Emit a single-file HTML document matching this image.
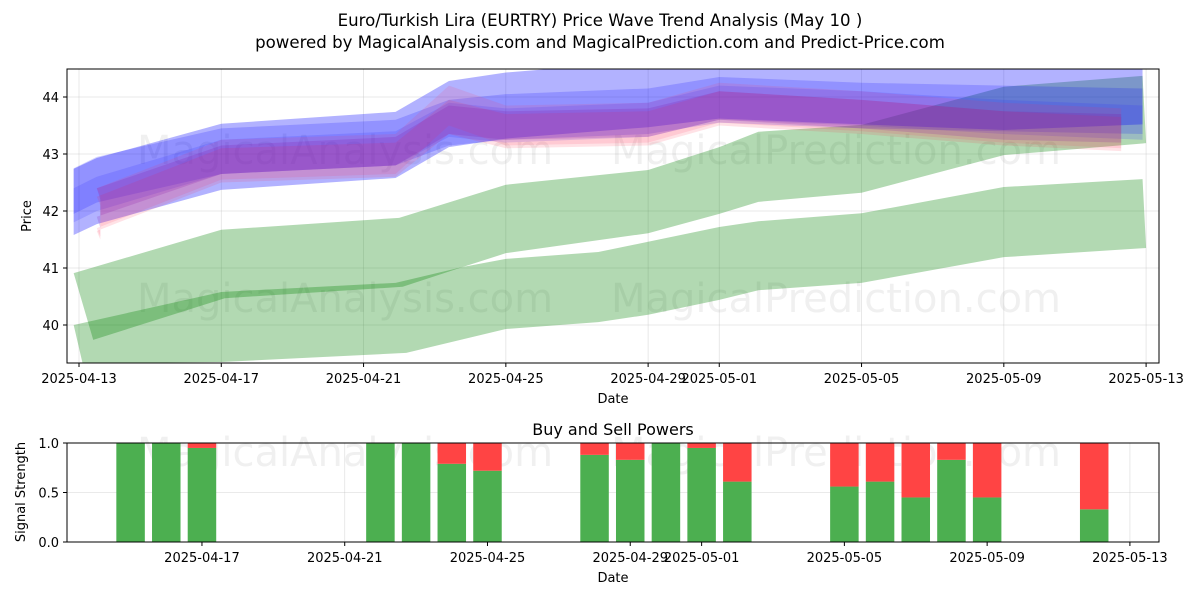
<!DOCTYPE html>
<html><head><meta charset="utf-8">
<style>
body{margin:0;background:#fff;}
svg{display:block;font-family:"DejaVu Sans","Liberation Sans",sans-serif;}
</style></head>
<body>
<svg id="chart" width="1200" height="600" viewBox="0 0 1200 600" xmlns="http://www.w3.org/2000/svg">
<rect width="1200" height="600" fill="#fff"/>
<text x="600" y="26" font-size="16.6" text-anchor="middle">Euro/Turkish Lira (EURTRY) Price Wave Trend Analysis (May 10 )</text>
<text x="600" y="48" font-size="16.6" text-anchor="middle">powered by MagicalAnalysis.com and MagicalPrediction.com and Predict-Price.com</text>
<g id="topchart"></g>
<g id="bottomchart"></g>
</svg>
<script>
// ---------- data ----------
const xTickLabelsTop = ["2025-04-13","2025-04-17","2025-04-21","2025-04-25","2025-04-29","2025-05-01","2025-05-05","2025-05-09","2025-05-13"];
const xTickDaysTop = [0,4,8,12,16,18,22,26,30];
const yTicksTop = [40,41,42,43,44];
const xTickLabelsBottom = ["2025-04-17","2025-04-21","2025-04-25","2025-04-29","2025-05-01","2025-05-05","2025-05-09","2025-05-13"];
const xTickDaysBottom = [4,8,12,16,18,22,26,30];
const yTicksBottom = [0.0,0.5,1.0];

// green prediction bands (days from 2025-04-13, price)
const bandATopX = [-0.15,4,9,12,16,18,19.1,22,26,29.9];
const bandATopY = [40.91,41.67,41.88,42.46,42.72,43.12,43.39,43.51,44.18,44.37];
const bandABotX = [0.4,4.1,9.1,10.8,12,16,18,19.1,22,26,30];
const bandABotY = [39.74,40.47,40.67,41.02,41.26,41.61,41.95,42.16,42.32,42.98,43.19];
const bandBTopX = [-0.15,4,8.9,10.8,12,14.6,16,18,19.1,22,26,29.9];
const bandBTopY = [40.0,40.58,40.74,41.02,41.16,41.28,41.46,41.72,41.82,41.96,42.42,42.56];
const bandBBotX = [0.1,4,9.2,12,14.6,16,18,19.1,22,26,30];
const bandBBotY = [39.33,39.35,39.51,39.93,40.05,40.18,40.44,40.61,40.74,41.19,41.35];

// wave bands: centers & half widths
const waveX = [-0.15,0.5,4,8.9,10.4,12,16,18,22,26,29.9];
const waveBlue1 = [42.16,42.35,42.95,43.16,43.7,43.85,44.05,44.2,44.1,44.0,44.1];
const waveBlue2 = [42.35,42.55,43.05,43.2,43.55,43.65,43.75,43.95,43.85,43.8,43.75];
const waveBlue3 = [42.1,42.3,42.95,43.1,43.6,43.5,43.6,43.9,43.8,43.65,43.55];
const wavePink1 = [41.9,42.05,42.9,43.0,43.85,43.5,43.55,43.9,43.75,43.55,43.45];
const wavePink2 = [41.8,41.95,42.8,42.9,43.65,43.4,43.45,43.8,43.65,43.45,43.35];
const wavePurple = [41.95,42.15,42.9,43.05,43.6,43.5,43.55,43.85,43.7,43.5,43.45];
const waveHalf = [0.58,0.4,0.3,0.35,0.3,0.25];

// buy / sell powers
const barDays = [2,3,4,9,10,11,12,15,16,17,18,19,22,23,24,25,26,29];
const buyPower = [1,1,0.95,1,1,0.79,0.72,0.88,0.83,1,0.95,0.61,0.56,0.61,0.45,0.83,0.45,0.33];

// ---------- drawing ----------
const NS="http://www.w3.org/2000/svg";
function mk(tag,attrs,parent){const e=document.createElementNS(NS,tag);for(const k in attrs)e.setAttribute(k,attrs[k]);parent.appendChild(e);return e;}
const topG=document.getElementById('topchart'), botG=document.getElementById('bottomchart');
const T={l:67,r:1159,t:69,b:363};
const xT=d=>79+d*35.57;
const yT=p=>97+(44-p)*57;
const B={l:67,r:1159,t:443,b:542};
const xB=d=>59.2+d*35.69;
const yB=v=>542-v*99;

// clip
const defs=mk('defs',{},topG);
const cp=mk('clipPath',{id:'clipTop'},defs);
mk('rect',{x:T.l,y:T.t,width:T.r-T.l,height:T.b-T.t},cp);

// grid top
xTickDaysTop.forEach((d,i)=>{
 const g=mk('line',{x1:xT(d),x2:xT(d),y1:T.t,y2:T.b,stroke:'#b0b0b0','stroke-opacity':0.35,'stroke-width':0.8},topG);
 
 
 const tk=mk('line',{x1:xT(d),x2:xT(d),y1:T.b,y2:T.b+4,stroke:'#000'},topG);
 
 
 const t=mk('text',{x:xT(d),y:T.b+20,'font-size':13,'text-anchor':'middle'},topG);
 
 
 t.textContent=xTickLabelsTop[i];
});
yTicksTop.forEach(p=>{
 const g=mk('line',{x1:T.l,x2:T.r,y1:yT(p),y2:yT(p),stroke:'#b0b0b0','stroke-opacity':0.35,'stroke-width':0.8},topG);
 
 
 mk('line',{x1:T.l-4,x2:T.l,y1:yT(p),y2:yT(p),stroke:'#000'},topG);
 const t=mk('text',{x:T.l-8,y:yT(p)+5,'font-size':13,'text-anchor':'end'},topG);
 
 
 t.textContent=p;
});

// watermarks
[[345,150,'MagicalAnalysis.com'],[836,150,'MagicalPrediction.com'],[345,298,'MagicalAnalysis.com'],[836,298,'MagicalPrediction.com'],[345,452,'MagicalAnalysis.com'],[836,452,'MagicalPrediction.com']].forEach(w=>{
 const t=mk('text',{x:w[0],y:w[1]+14,'font-size':40,'text-anchor':'middle',fill:'#888','fill-opacity':0.13},topG);
 
 
 t.textContent=w[2];
});

const plot=mk('g',{'clip-path':'url(#clipTop)'},topG);
function bandPath(tx,ty,bx,by){
 let s='M'+tx.map((d,i)=>xT(d)+','+yT(ty[i])).join(' L');
 for(let i=bx.length-1;i>=0;i--) s+=' L'+xT(bx[i])+','+yT(by[i]);
 return s+'Z';
}
const gA=mk('path',{d:bandPath(bandATopX,bandATopY,bandABotX,bandABotY),fill:'green','fill-opacity':0.3},plot);


const gB=mk('path',{d:bandPath(bandBTopX,bandBTopY,bandBBotX,bandBBotY),fill:'green','fill-opacity':0.3},plot);



function wave(center,half,color,op,name,xs){
 xs=xs||waveX;
 const ty=center.map(c=>c+half), by=center.map(c=>c-half);
 const p=mk('path',{d:bandPath(xs,ty,xs,by),fill:color,'fill-opacity':op},plot);
 
 
}
wave(waveBlue1,waveHalf[0],'#0000ff',0.3,'wave-blue-outer');
wave(waveBlue2,waveHalf[1],'#0000ff',0.18,'wave-blue-2');
wave(waveBlue3,waveHalf[2],'#3030ff',0.18,'wave-blue-3');
const pinkX=waveX.map((d,i)=>i===waveX.length-1?29.3:(i===0?0.6:d));
wave(wavePink1,waveHalf[3],'#ff3060',0.13,'wave-pink-1',pinkX);
wave(wavePink2,waveHalf[4],'#ff2040',0.13,'wave-pink-2',pinkX);
wave(wavePurple,waveHalf[5],'#8000a0',0.17,'wave-purple',pinkX);

const f1=mk('rect',{x:T.l,y:T.t,width:T.r-T.l,height:T.b-T.t,fill:'none',stroke:'#000','stroke-width':1},topG);


const xl=mk('text',{x:613,y:403,'font-size':13,'text-anchor':'middle'},topG);


xl.textContent='Date';
const yl=mk('text',{x:0,y:0,'font-size':13,'text-anchor':'middle',transform:'translate(31,216) rotate(-90)'},topG);


yl.textContent='Price';

// ---------- bottom ----------
const bt=mk('text',{x:613,y:435,'font-size':16,'text-anchor':'middle'},botG);


bt.textContent='Buy and Sell Powers';
xTickDaysBottom.forEach((d,i)=>{
 mk('line',{x1:xB(d),x2:xB(d),y1:B.t,y2:B.b,stroke:'#b0b0b0','stroke-opacity':0.35,'stroke-width':0.8},botG);
 mk('line',{x1:xB(d),x2:xB(d),y1:B.b,y2:B.b+4,stroke:'#000'},botG);
 const t=mk('text',{x:xB(d),y:B.b+20,'font-size':13,'text-anchor':'middle'},botG);
 
 
 t.textContent=xTickLabelsBottom[i];
});
yTicksBottom.forEach(v=>{
 mk('line',{x1:B.l,x2:B.r,y1:yB(v),y2:yB(v),stroke:'#b0b0b0','stroke-opacity':0.35,'stroke-width':0.8},botG);
 mk('line',{x1:B.l-4,x2:B.l,y1:yB(v),y2:yB(v),stroke:'#000'},botG);
 const t=mk('text',{x:B.l-8,y:yB(v)+5,'font-size':13,'text-anchor':'end'},botG);
 
 
 t.textContent=v.toFixed(1);
});
barDays.forEach((d,i)=>{
 const w=28.5, x=xB(d)-w/2;
 const g=mk('rect',{x:x,y:yB(buyPower[i]),width:w,height:yB(0)-yB(buyPower[i]),fill:'#4caf50'},botG);
 
 
 const r=mk('rect',{x:x,y:yB(1),width:w,height:yB(buyPower[i])-yB(1),fill:'#ff4444'},botG);
 
 
});
const f2=mk('rect',{x:B.l,y:B.t,width:B.r-B.l,height:B.b-B.t,fill:'none',stroke:'#000','stroke-width':1},botG);


const bx=mk('text',{x:613,y:582,'font-size':13,'text-anchor':'middle'},botG);


bx.textContent='Date';
const by=mk('text',{x:0,y:0,'font-size':13,'text-anchor':'middle',transform:'translate(25,492) rotate(-90)'},botG);


by.textContent='Signal Strength';
</script>
</body></html>
